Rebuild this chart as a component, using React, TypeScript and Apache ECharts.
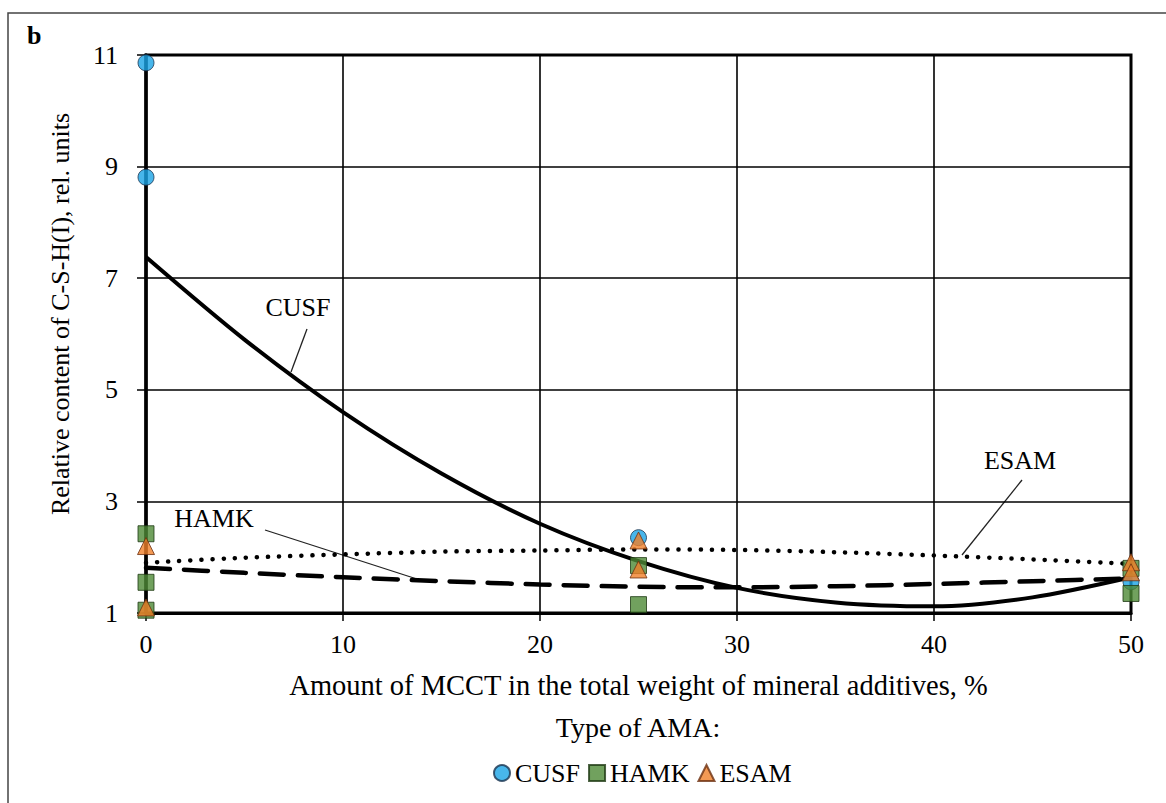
import React, { useEffect, useRef } from "react";
import * as echarts from "echarts";

const FONT = "'Liberation Serif', 'Times New Roman', serif";

// x positions of read-off trend-line values
const trendX = [0, 5, 10, 15, 20, 25, 30, 35, 40, 45, 50];
const cusfTrend = [7.38, 5.9, 4.6, 3.5, 2.6, 1.93, 1.45, 1.19, 1.12, 1.28, 1.64];
const hamkTrend = [1.81, 1.72, 1.64, 1.57, 1.51, 1.47, 1.46, 1.48, 1.52, 1.57, 1.62];
const esamTrend = [1.9, 1.99, 2.05, 2.1, 2.12, 2.14, 2.13, 2.09, 2.03, 1.96, 1.88];

// measured points
const cusfX = [0, 0, 25, 50];
const cusfY = [10.86, 8.81, 2.35, 1.56];
const hamkX = [0, 0, 0, 25, 25, 50, 50];
const hamkY = [2.42, 1.55, 1.05, 1.85, 1.15, 1.8, 1.35];
const esamX = [0, 0, 25, 25, 50, 50];
const esamY = [2.2, 1.1, 2.3, 1.78, 1.91, 1.73];

const seriesNames = ["CUSF", "HAMK", "ESAM"];

const pairs = (xs: number[], ys: number[]) => xs.map((x, i) => [x, ys[i]]);

export default function App() {
  const ref = useRef<HTMLDivElement>(null);
  useEffect(() => {
    if (!ref.current) return;
    const chart = echarts.init(ref.current, undefined, { renderer: "svg" });
    const textBase = { fontFamily: FONT, color: "#000" };
    chart.setOption({
      animation: false,
      backgroundColor: "#fff",
      grid: { left: 146, right: 35, top: 55, bottom: 190, show: true, borderColor: "#000", borderWidth: 3, outerBoundsMode: "none" },
      xAxis: {
        type: "value",
        min: 0,
        max: 50,
        interval: 10,
        name: "Amount of MCCT in the total weight of mineral additives, %",
        nameLocation: "middle",
        nameGap: 58,
        nameTextStyle: { ...textBase, fontSize: 28.5 },
        axisLine: { show: true, lineStyle: { color: "#000", width: 3 } },
        axisTick: { show: true, inside: false, length: 8, lineStyle: { color: "#000", width: 1.5 } },
        axisLabel: { ...textBase, fontSize: 26, margin: 18 },
        splitLine: { show: true, lineStyle: { color: "#000", width: 1.6 } },
      },
      yAxis: {
        type: "value",
        min: 1,
        max: 11,
        interval: 2,
        axisLine: { show: true, lineStyle: { color: "#000", width: 3.5 } },
        axisTick: { show: true, inside: false, length: 9, lineStyle: { color: "#000", width: 1.5 } },
        axisLabel: { ...textBase, fontSize: 26, margin: 28 },
        splitLine: { show: true, lineStyle: { color: "#000", width: 1.6 } },
      },
      legend: {
        data: seriesNames,
        left: 488,
        top: 755,
        itemWidth: 16,
        itemHeight: 16,
        itemGap: 8,
        textStyle: { ...textBase, fontSize: 26 },
      },
      graphic: [
        { type: "rect", z: -10, shape: { x: 8, y: 13, width: 1170, height: 800 }, style: { fill: "none", stroke: "#444", lineWidth: 1.5 } },
        { type: "text", x: 27, y: 22, style: { text: "b", font: `bold 26px ${FONT}`, fill: "#000" } },
        { type: "text", x: 60, y: 314, rotation: Math.PI / 2, style: { text: "Relative content of C-S-H(I), rel. units", font: `26px ${FONT}`, fill: "#000", align: "center", verticalAlign: "middle" } },
        { type: "text", x: 638, y: 727, style: { text: "Type of AMA:", font: `28px ${FONT}`, fill: "#000", align: "center", verticalAlign: "middle" } },
        { type: "text", x: 298, y: 307, style: { text: "CUSF", font: `26px ${FONT}`, fill: "#000", align: "center", verticalAlign: "middle" } },
        { type: "line", shape: { x1: 307, y1: 329, x2: 291, y2: 372 }, style: { stroke: "#222", lineWidth: 1.3 } },
        { type: "text", x: 214, y: 518, style: { text: "HAMK", font: `26px ${FONT}`, fill: "#000", align: "center", verticalAlign: "middle" } },
        { type: "line", shape: { x1: 265, y1: 530, x2: 420, y2: 580 }, style: { stroke: "#222", lineWidth: 1.3 } },
        { type: "text", x: 1020, y: 460, style: { text: "ESAM", font: `26px ${FONT}`, fill: "#000", align: "center", verticalAlign: "middle" } },
        { type: "line", shape: { x1: 1022, y1: 480, x2: 962, y2: 555 }, style: { stroke: "#222", lineWidth: 1.3 } },
      ],
      series: [
        {
          name: "CUSF trend",
          type: "line",
          data: pairs(trendX, cusfTrend),
          smooth: 0.3,
          showSymbol: false,
          symbol: "none",
          z: 3,
          lineStyle: { color: "#000", width: 4 },
        },
        {
          name: "HAMK trend",
          type: "line",
          data: pairs(trendX, hamkTrend),
          smooth: 0.3,
          showSymbol: false,
          symbol: "none",
          z: 3,
          lineStyle: { color: "#000", width: 4.5, type: [24, 14], cap: "round" },
        },
        {
          name: "ESAM trend",
          type: "line",
          data: pairs(trendX, esamTrend),
          smooth: 0.3,
          showSymbol: false,
          symbol: "none",
          z: 3,
          lineStyle: { color: "#000", width: 4.5, type: [0.1, 11], cap: "round" },
        },
        {
          name: "CUSF",
          type: "scatter",
          data: pairs(cusfX, cusfY),
          symbol: "circle",
          symbolSize: 16,
          z: 4,
          itemStyle: { color: "#1aa4e6", borderColor: "#1b3550", borderWidth: 1 },
        },
        {
          name: "HAMK",
          type: "scatter",
          data: pairs(hamkX, hamkY),
          symbol: "rect",
          symbolSize: 16,
          z: 5,
          itemStyle: { color: "#4e8a36", borderColor: "#1f3a14", borderWidth: 1 },
        },
        {
          name: "ESAM",
          type: "scatter",
          data: pairs(esamX, esamY),
          symbol: "triangle",
          symbolSize: 17,
          z: 6,
          itemStyle: { color: "#f08029", borderColor: "#6b3010", borderWidth: 1 },
        },
      ],
    });
    return () => chart.dispose();
  }, []);
  return <div ref={ref} style={{ position: "fixed", left: 0, top: 0, width: 1166, height: 803 }} />;
}
